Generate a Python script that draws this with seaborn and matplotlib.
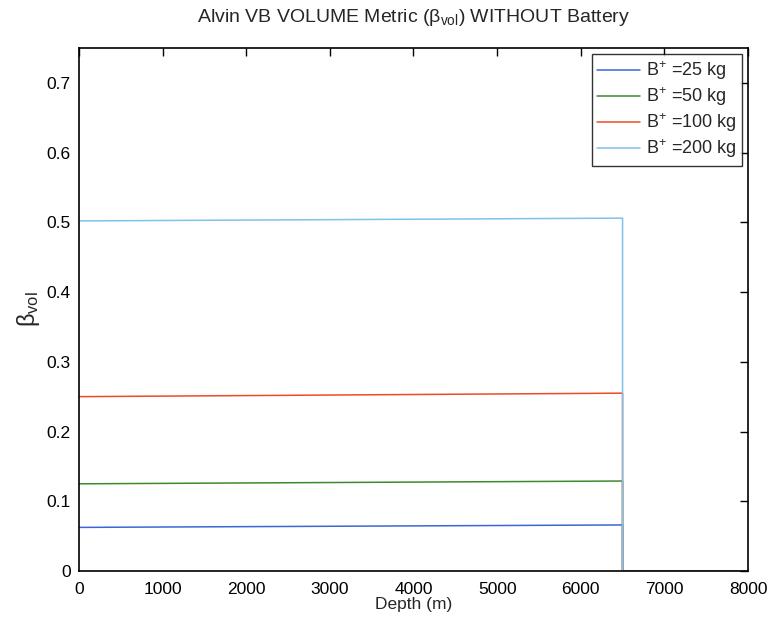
import matplotlib
matplotlib.use("Agg")
import matplotlib.pyplot as plt
import seaborn as sns
import pandas as pd

depth = [0, 6500, 6500, 8000]
labels = ["B$^{+}$ =25 kg", "B$^{+}$ =50 kg", "B$^{+}$ =100 kg", "B$^{+}$ =200 kg"]
beta_25 = [0.0625, 0.066, 0.0, 0.0]
beta_50 = [0.125, 0.129, 0.0, 0.0]
beta_100 = [0.250, 0.255, 0.0, 0.0]
beta_200 = [0.502, 0.506, 0.0, 0.0]
colors = ["#3b66d6", "#3d8a2e", "#ee4a2a", "#7fc2ea"]

sns.set_style("white")
plt.rcParams['font.family'] = ['Liberation Sans', 'DejaVu Sans']
plt.rcParams['mathtext.fontset'] = 'custom'
plt.rcParams['mathtext.rm'] = 'Liberation Sans'
plt.rcParams['mathtext.it'] = 'Liberation Sans'

rows = []
for lab, vals in zip(labels, [beta_25, beta_50, beta_100, beta_200]):
    for i, (d, v) in enumerate(zip(depth, vals)):
        rows.append({"Depth": d, "beta": v, "series": lab, "order": i})
df = pd.DataFrame(rows)

fig = plt.figure(figsize=(7.69, 6.17), dpi=100)
ax = fig.add_axes([0.1027, 0.0746, 0.870, 0.8476])
sns.lineplot(data=df, x="Depth", y="beta", hue="series", hue_order=labels,
             palette=colors, sort=False, units="series", estimator=None,
             linewidth=1.1, ax=ax, legend=True)

ax.set_xlim(0, 8000)
ax.set_ylim(0, 0.75)
ax.set_xticks(range(0, 8001, 1000))
ax.set_yticks([0, 0.1, 0.2, 0.3, 0.4, 0.5, 0.6, 0.7])
ax.set_yticklabels(["0", "0.1", "0.2", "0.3", "0.4", "0.5", "0.6", "0.7"])
ax.tick_params(direction="in", top=True, right=True, length=6, width=1, labelsize=12.5, colors="black")
ax.tick_params(axis="x", pad=8)
ax.tick_params(axis="y", pad=6)
for s in ax.spines.values():
    s.set_color("black")
    s.set_linewidth(1.2)
ax.set_xlabel("Depth (m)", fontsize=12.5, labelpad=0)
ax.set_ylabel(r"$\beta_{\mathrm{vol}}$", fontsize=17, labelpad=3)
ax.set_title(r"Alvin VB VOLUME Metric ($\beta_{\mathrm{vol}}$) WITHOUT Battery", fontsize=14, pad=19)

leg = ax.legend(loc="upper right", fontsize=13, frameon=True, fancybox=False,
                edgecolor="black", borderaxespad=0.35, handlelength=2.4,
                handletextpad=0.3, labelspacing=0.18, borderpad=0.3)
leg.get_frame().set_linewidth(1.0)
leg.set_title(None)

fig.savefig("out.png", dpi=100)
